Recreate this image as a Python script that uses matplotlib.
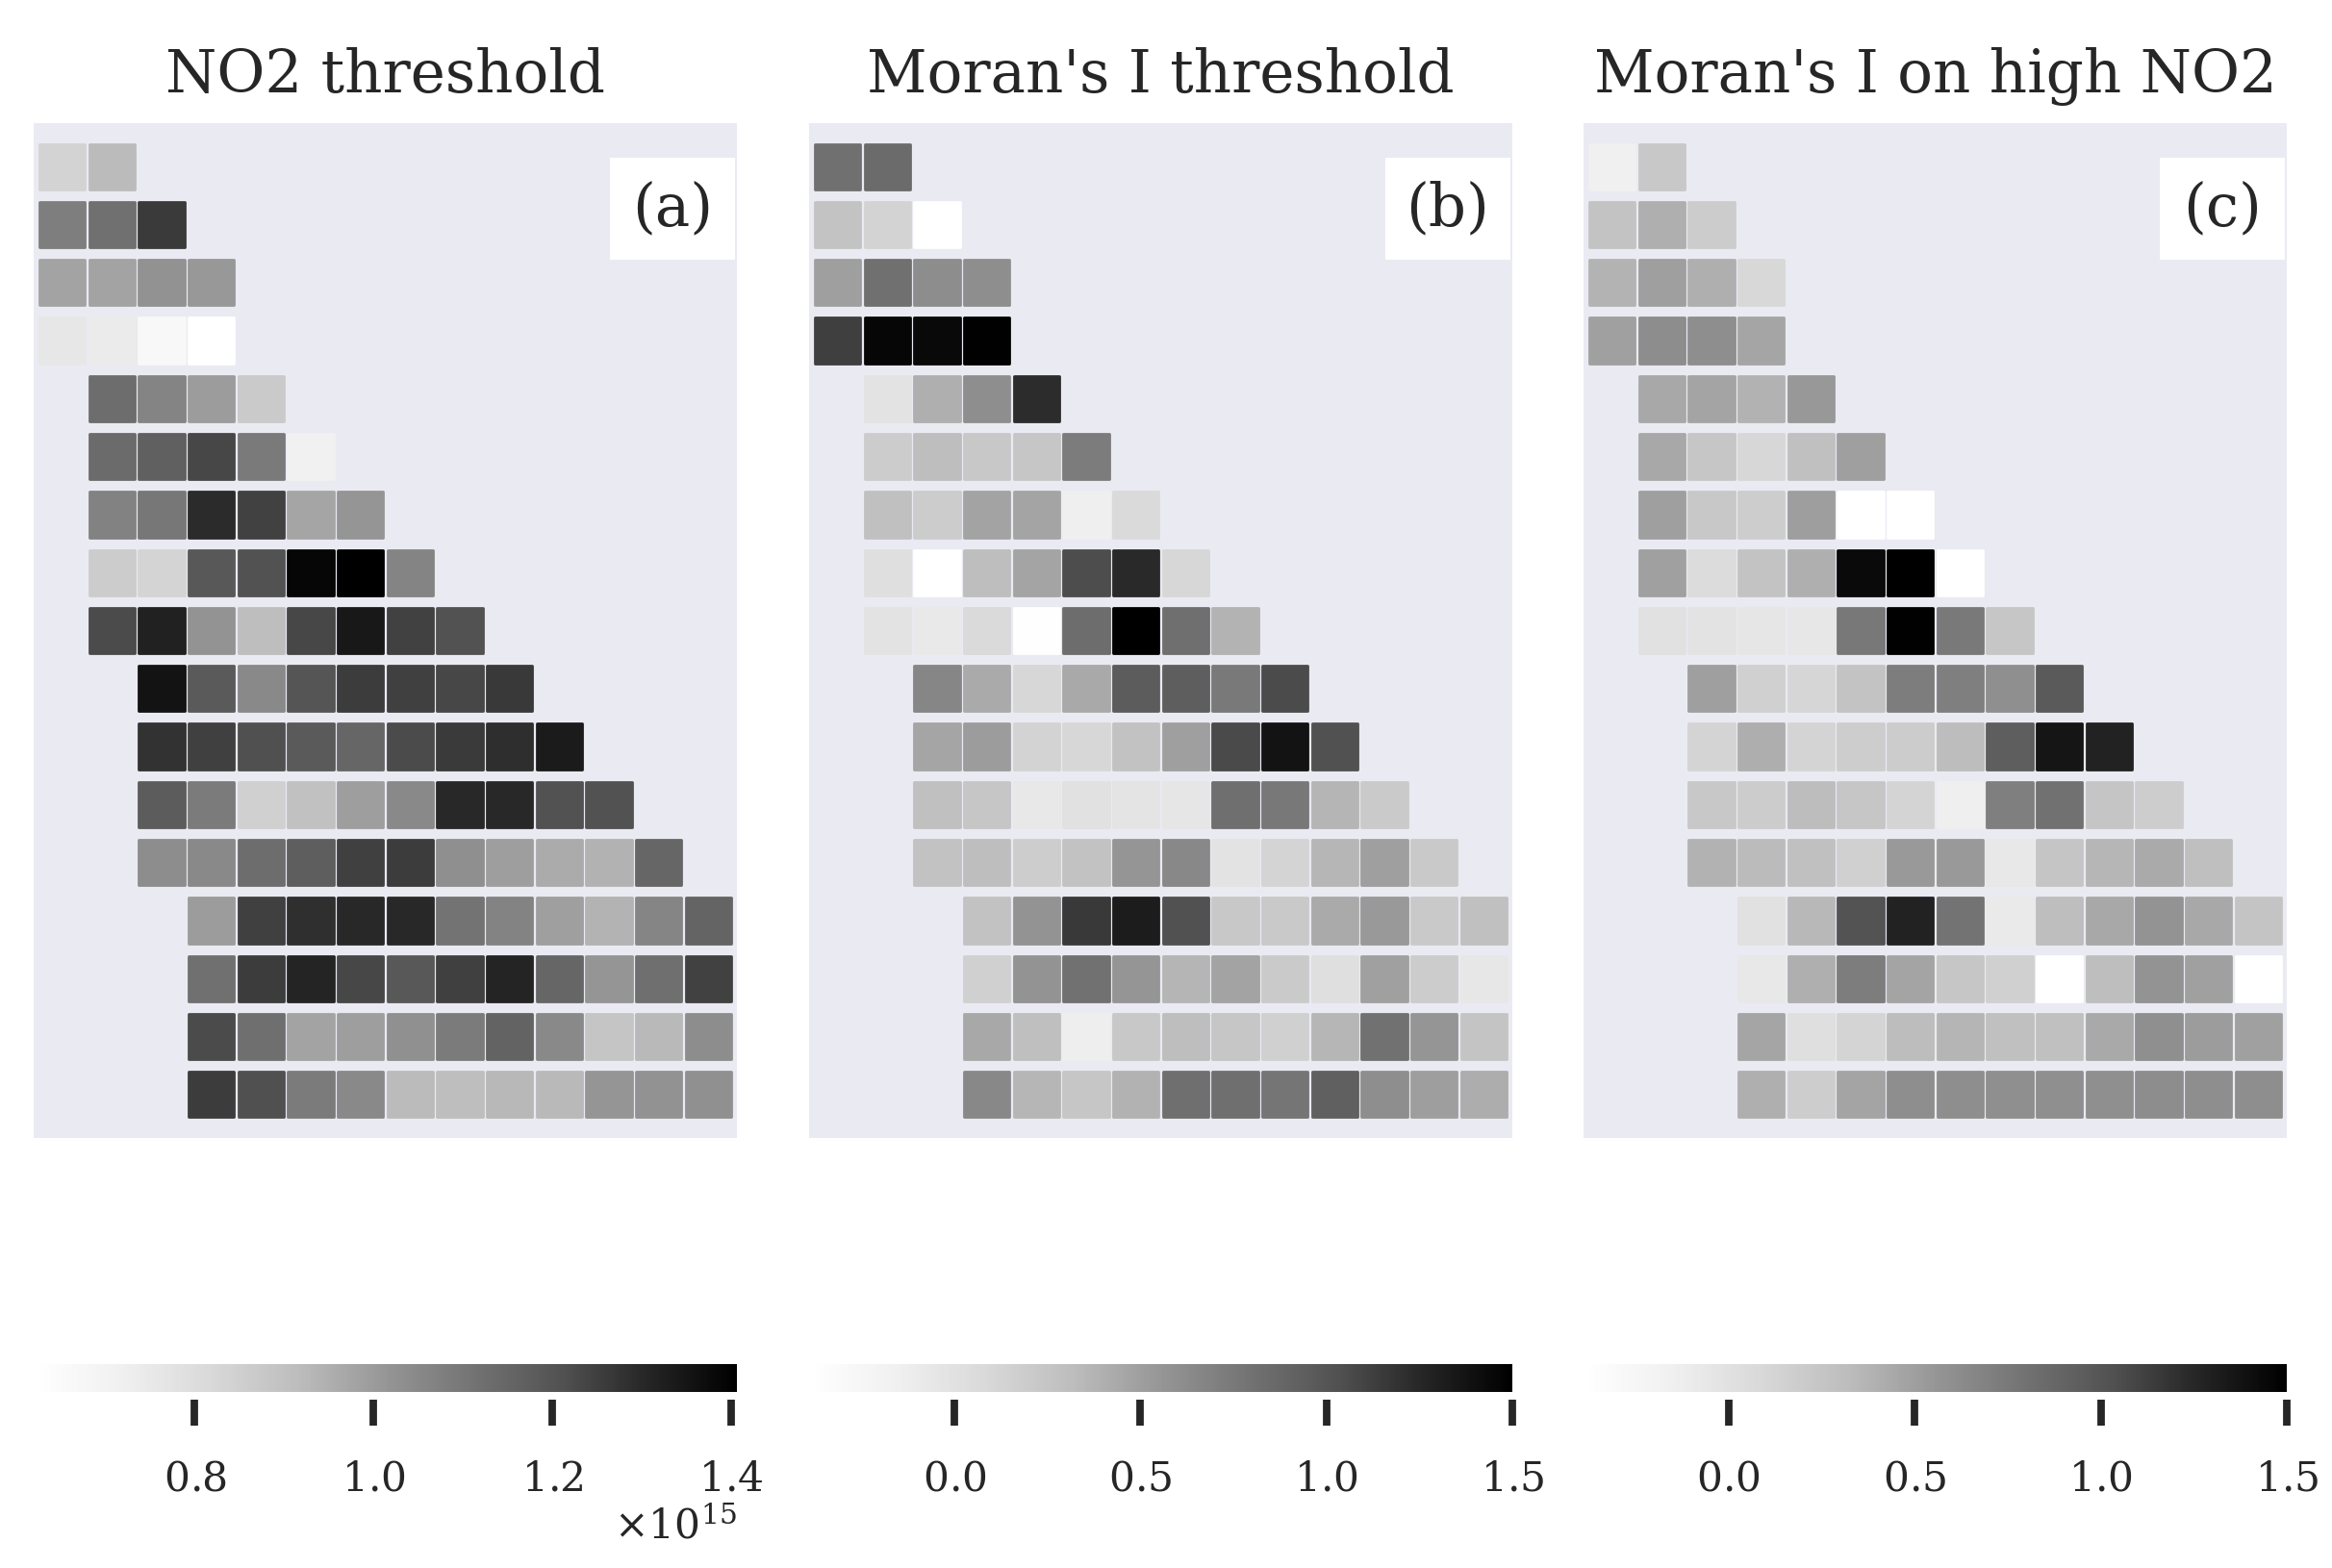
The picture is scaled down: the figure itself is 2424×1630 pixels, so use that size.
import numpy as np
import matplotlib
matplotlib.use('Agg')
import matplotlib.pyplot as plt
from matplotlib.patches import Rectangle

plt.rcParams['font.family'] = ['DejaVu Serif']
plt.rcParams['mathtext.fontset'] = 'dejavuserif'
plt.rcParams['axes.formatter.use_mathtext'] = True
plt.rcParams['text.color'] = '0.15'

# ---------------- data ----------------
titles = ["NO2 threshold", "Moran's I threshold", "Moran's I on high NO2"]
panel_labels = ['(a)', '(b)', '(c)']

# first grid column of every grid row (top to bottom)
row_start = [0, 0, 0, 0, 1, 1, 1, 1, 1, 2, 2, 2, 2, 3, 3, 3, 3]

# NO2 column values, in units of 1e15
no2_unit = 1e15
no2_rows = [
    [0.84, 0.92],
    [1.08, 1.12, 1.26],
    [0.98, 0.98, 1.025, 1.01],
    [0.76, 0.74, 0.667, 0.62],
    [1.13, 1.063, 1.0, 0.87],
    [1.135, 1.17, 1.232, 1.093, 0.71],
    [1.07, 1.10, 1.295, 1.245, 0.975, 1.016],
    [0.86, 0.835, 1.19, 1.21, 1.39, 1.407, 1.063],
    [1.225, 1.32, 1.02, 0.91, 1.234, 1.34, 1.245, 1.21],
    [1.355, 1.187, 1.05, 1.20, 1.257, 1.25, 1.232, 1.264],
    [1.28, 1.25, 1.215, 1.187, 1.15, 1.225, 1.26, 1.29, 1.335],
    [1.18, 1.09, 0.85, 0.90, 0.995, 1.05, 1.30, 1.30, 1.21, 1.21],
    [1.04, 1.05, 1.13, 1.175, 1.25, 1.257, 1.035, 0.995, 0.96, 0.945, 1.15],
    [1.0, 1.25, 1.285, 1.30, 1.30, 1.11, 1.066, 0.99, 0.94, 1.06, 1.155],
    [1.12, 1.257, 1.31, 1.232, 1.19, 1.25, 1.31, 1.15, 1.016, 1.124, 1.245],
    [1.225, 1.124, 0.98, 0.995, 1.03, 1.09, 1.16, 1.05, 0.89, 0.925, 1.04],
    [1.257, 1.215, 1.09, 1.05, 0.92, 0.91, 0.93, 0.925, 1.016, 1.025, 1.03],
]

# Moran's I (threshold)
moran_rows = [
    [0.81, 0.85],
    [0.27, 0.14, -0.39],
    [0.50, 0.81, 0.62, 0.61],
    [1.13, 1.46, 1.44, 1.49],
    [-0.02, 0.40, 0.61, 1.22],
    [0.20, 0.31, 0.23, 0.24, 0.73],
    [0.29, 0.20, 0.48, 0.47, -0.14, 0.08],
    [0.02, -0.39, 0.31, 0.47, 1.05, 1.24, 0.10],
    [-0.02, -0.08, 0.07, -0.37, 0.83, 1.50, 0.82, 0.38],
    [0.66, 0.43, 0.10, 0.44, 0.96, 0.94, 0.75, 1.06],
    [0.46, 0.52, 0.14, 0.10, 0.28, 0.50, 1.07, 1.38, 1.03],
    [0.29, 0.24, -0.07, 0.0, -0.03, -0.05, 0.82, 0.76, 0.37, 0.21],
    [0.28, 0.31, 0.18, 0.28, 0.555, 0.65, -0.02, 0.12, 0.36, 0.50, 0.22],
    [0.28, 0.57, 1.16, 1.32, 1.03, 0.23, 0.22, 0.43, 0.54, 0.22, 0.29],
    [0.16, 0.57, 0.80, 0.56, 0.37, 0.48, 0.21, 0.03, 0.49, 0.19, -0.06],
    [0.45, 0.30, -0.13, 0.23, 0.31, 0.24, 0.16, 0.36, 0.80, 0.56, 0.26],
    [0.65, 0.36, 0.24, 0.39, 0.82, 0.82, 0.78, 0.93, 0.61, 0.51, 0.42],
]

# Moran's I computed on high-NO2 cells
moran_high_rows = [
    [-0.15, 0.23],
    [0.27, 0.40, 0.19],
    [0.38, 0.50, 0.40, 0.09],
    [0.49, 0.62, 0.61, 0.46],
    [0.45, 0.47, 0.39, 0.545],
    [0.45, 0.24, 0.10, 0.29, 0.50],
    [0.50, 0.23, 0.18, 0.51, -0.39, -0.38],
    [0.49, 0.05, 0.27, 0.40, 1.43, 1.50, -0.39],
    [0.0, -0.02, -0.05, -0.06, 0.76, 1.49, 0.75, 0.24],
    [0.50, 0.16, 0.11, 0.27, 0.72, 0.71, 0.60, 0.97],
    [0.13, 0.41, 0.13, 0.18, 0.20, 0.32, 0.94, 1.36, 1.28],
    [0.23, 0.19, 0.32, 0.24, 0.12, -0.14, 0.71, 0.80, 0.25, 0.18],
    [0.39, 0.33, 0.29, 0.16, 0.54, 0.54, -0.07, 0.25, 0.36, 0.43, 0.30],
    [0.0, 0.35, 1.02, 1.28, 0.79, -0.09, 0.31, 0.45, 0.57, 0.45, 0.26],
    [-0.07, 0.40, 0.72, 0.47, 0.24, 0.16, -0.39, 0.31, 0.57, 0.49, -0.39],
    [0.46, 0.02, 0.13, 0.32, 0.37, 0.29, 0.29, 0.44, 0.60, 0.52, 0.49],
    [0.40, 0.18, 0.47, 0.61, 0.61, 0.60, 0.60, 0.60, 0.62, 0.61, 0.61],
]

panel_rows = [no2_rows, moran_rows, moran_high_rows]
panel_units = [no2_unit, 1.0, 1.0]
cbar_ticks = [
    [0.8e15, 1.0e15, 1.2e15, 1.4e15],
    [0.0, 0.5, 1.0, 1.5],
    [0.0, 0.5, 1.0, 1.5],
]

# ---------------- figure ----------------
DPI = 200
fig = plt.figure(figsize=(12.12, 8.155), dpi=DPI)
lefts = [0.01444, 0.34695, 0.67904]
width = 0.30157

for i in range(3):
    ax = fig.add_axes([lefts[i], 0.27407, width, 0.64684])
    ax.set_facecolor('#EAEAF2')
    xs, ys, vs = [], [], []
    for r, (s0, row) in enumerate(zip(row_start, panel_rows[i])):
        for j, v in enumerate(row):
            xs.append(s0 + j)
            ys.append(r)
            vs.append(v * panel_units[i])
    sc = ax.scatter(xs, ys, c=vs, cmap='Greys', marker='s', s=289,
                    edgecolors='face', linewidths=1.0, zorder=2)
    sc.set_joinstyle('round')
    ax.set_xlim(-0.575, 13.575)
    ax.set_ylim(16.75, -0.75)
    ax.set_xticks([])
    ax.set_yticks([])
    for sp in ax.spines.values():
        sp.set_visible(False)
    ax.set_title(titles[i], fontsize=22.0, pad=12, color='0.15')

    ax.add_patch(Rectangle((0.819, 0.865), 0.178, 0.101, transform=ax.transAxes,
                           facecolor='white', edgecolor='none', zorder=3))
    ax.text(0.908, 0.9165, panel_labels[i], transform=ax.transAxes,
            ha='center', va='center', fontsize=22.0, color='0.15', zorder=4)

    cax = fig.add_axes([lefts[i], 0.1122, width, 0.01778])
    cb = fig.colorbar(sc, cax=cax, orientation='horizontal', ticks=cbar_ticks[i])
    cb.outline.set_visible(False)
    cax.spines['bottom'].set_position(('outward', 2.9))
    cax.tick_params(axis='x', which='major', direction='out', length=9.7,
                    width=2.8, color='0.15', labelsize=15.3, pad=12.1,
                    labelcolor='0.15')
    cax.tick_params(axis='x', which='minor', length=0)
    off = cax.xaxis.get_offset_text()
    off.set_color('0.15')
    off.set_fontsize(15.3)

fig.savefig('out.png', dpi=DPI)
